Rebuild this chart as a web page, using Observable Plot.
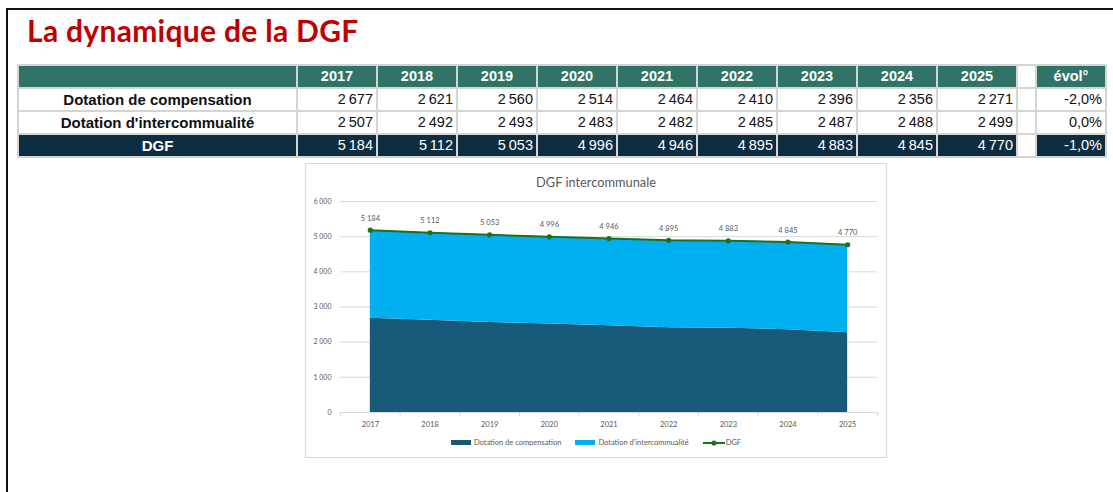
<!DOCTYPE html>
<html>
<head>
<meta charset="utf-8">
<script src="https://cdn.jsdelivr.net/npm/d3@7"></script>
<script src="https://cdn.jsdelivr.net/npm/@observablehq/plot@0.6"></script>
<style>
  html, body { margin: 0; padding: 0; background: #fff; }
  body { width: 1113px; height: 492px; position: relative; overflow: hidden; }
  #frame { position: absolute; left: 6px; top: 8px; width: 1200px; height: 600px;
           border-left: 2px solid #111; border-top: 2px solid #111; }
  #title { position: absolute; left: 27px; top: 12px; font-family: Lato, sans-serif; font-weight: 700;
           font-size: 30px; color: #c00000; white-space: nowrap; letter-spacing: 0.3px; }
  table { position: absolute; left: 17px; top: 64px; border-collapse: collapse; table-layout: fixed;
          font-family: "Liberation Sans", Arial, sans-serif; font-size: 14.5px; }
  tr { height: 23px; }
  td { border: 2px solid #d4d4d4; padding: 0 3px; white-space: nowrap; line-height: 19px; }
  tr.head td { background: #2f7466; color: #fff; font-weight: 700; text-align: center; }
  tr.row td { background: #fff; color: #111; text-align: right; }
  tr.row td.lab { text-align: center; font-weight: 700; font-size: 15px; }
  tr.tot td { background: #0d2e40; color: #fff; text-align: right; }
  tr.tot td.lab { text-align: center; font-weight: 700; font-size: 15px; }
  td.gap { background: #fff !important; }
  #chartbox { position: absolute; left: 305px; top: 163px; width: 580px; height: 293px;
              border: 1px solid #d9d9d9; background: #fff; }
  #ctitle { position: absolute; left: 0; width: 100%; top: 10px; text-align: center;
            font-family: Lato, sans-serif; font-size: 12.8px; color: #595959; }
  #plot { position: absolute; left: 0; top: 28px; }
  #legend { position: absolute; left: 0; width: 100%; top: 274px; display: flex; justify-content: center;
            align-items: center; font-family: Lato, sans-serif; font-size: 7.5px; color: #595959; }
  .li { display: flex; align-items: center; margin: 0 7px; }
  .sw { width: 20px; height: 5px; margin-right: 3px; }
</style>
</head>
<body>
<div id="frame"></div>
<div id="title">La dynamique de la DGF</div>
<table id="tbl"></table>
<div id="chartbox">
  <div id="ctitle">DGF intercommunale</div>
  <div id="plot"></div>
  <div id="legend"></div>
</div>
<script>
const years = [2017, 2018, 2019, 2020, 2021, 2022, 2023, 2024, 2025];
const compensation = [2677, 2621, 2560, 2514, 2464, 2410, 2396, 2356, 2271];
const intercommunalite = [2507, 2492, 2493, 2483, 2482, 2485, 2487, 2488, 2499];
const dgf = [5184, 5112, 5053, 4996, 4946, 4895, 4883, 4845, 4770];
const evol = [-2.0, 0.0, -1.0];
const rowLabels = ["Dotation de compensation", "Dotation d'intercommualité", "DGF"];
const seriesNames = ["Dotation de compensation", "Dotation d'intercommualité", "DGF"];
const yTicks = [0, 1000, 2000, 3000, 4000, 5000, 6000];
const colors = ["#175a7a", "#00b0f0", "#1f6f22"];

const fr = d3.formatLocale({decimal: ",", thousands: "\u00a0", grouping: [3], currency: ["", "€"], minus: "-"});
const frT = d3.formatLocale({decimal: ",", thousands: "\u2009", grouping: [3], currency: ["", "€"], minus: "-"});
const fmt = fr.format(",d");
const fmtT = frT.format(",d");
const fmtPct = v => fr.format(".1f")(v) + "%";

// Table
const tbl = document.getElementById("tbl");
const colW = [279].concat(years.map(() => 80)).concat([19, 70]);
const cg = document.createElement("colgroup");
colW.forEach(w => { const c = document.createElement("col"); c.style.width = w + "px"; cg.appendChild(c); });
tbl.appendChild(cg);
function addRow(cls, label, vals, ev) {
  const tr = document.createElement("tr"); tr.className = cls;
  const l = document.createElement("td"); l.className = "lab"; l.textContent = label; tr.appendChild(l);
  vals.forEach(v => { const td = document.createElement("td"); td.textContent = v; tr.appendChild(td); });
  const g = document.createElement("td"); g.className = "gap"; tr.appendChild(g);
  const e = document.createElement("td"); e.textContent = ev; tr.appendChild(e);
  tbl.appendChild(tr);
}
addRow("head", "", years.map(String), "évol°");
addRow("row", rowLabels[0], compensation.map(fmtT), fmtPct(evol[0]));
addRow("row", rowLabels[1], intercommunalite.map(fmtT), fmtPct(evol[1]));
addRow("tot", rowLabels[2], dgf.map(fmtT), fmtPct(evol[2]));

// Chart data
const areaData = [];
years.forEach((y, i) => {
  areaData.push({year: y, series: seriesNames[0], value: compensation[i]});
  areaData.push({year: y, series: seriesNames[1], value: intercommunalite[i]});
});
const lineData = years.map((y, i) => ({year: y, value: dgf[i]}));
const bounds = years.map(y => y - 0.5).concat([years[years.length - 1] + 0.5]);

const chart = Plot.plot({
  width: 580,
  height: 240,
  marginLeft: 34,
  marginRight: 9,
  marginTop: 9,
  marginBottom: 20,
  style: {fontFamily: "Lato, sans-serif", fontSize: "7px", color: "#595959", background: "transparent"},
  x: {domain: [bounds[0], bounds[bounds.length - 1]], label: null},
  y: {domain: [0, 6000], label: null},
  color: {domain: seriesNames.slice(0, 2), range: colors.slice(0, 2)},
  marks: [
    Plot.gridY(yTicks, {stroke: "#d9d9d9", strokeOpacity: 1, strokeWidth: 1}),
    Plot.axisY(yTicks, {tickSize: 0, tickPadding: 9, tickFormat: fmt, fill: "#595959", fontSize: 7, label: null}),
    Plot.areaY(areaData, Plot.stackY({x: "year", y: "value", fill: "series", order: seriesNames.slice(0, 2)})),
    Plot.axisX(bounds, {tickSize: 4, text: null, stroke: "#d9d9d9", label: null}),
    Plot.axisX(years, {tickSize: 0, tickPadding: 9, tickFormat: d => String(d), fill: "#595959", fontSize: 7.5, label: null}),
    Plot.line(lineData, {x: "year", y: "value", stroke: colors[2], strokeWidth: 2}),
    Plot.dot(lineData, {x: "year", y: "value", fill: colors[2], r: 2.6}),
    Plot.text(lineData, {x: "year", y: "value", text: d => fmt(d.value), dy: -12, fill: "#595959", fontSize: 7.5})
  ]
});
document.getElementById("plot").appendChild(chart);

// Legend
const lg = document.getElementById("legend");
seriesNames.forEach((s, i) => {
  const it = document.createElement("div"); it.className = "li";
  if (i < 2) {
    const sw = document.createElement("div"); sw.className = "sw"; sw.style.background = colors[i]; it.appendChild(sw);
  } else {
    const svg = d3.create("svg").attr("width", 22).attr("height", 8).style("margin-right", "1px");
    svg.append("line").attr("x1", 0).attr("x2", 22).attr("y1", 4).attr("y2", 4).attr("stroke", colors[2]).attr("stroke-width", 2);
    svg.append("circle").attr("cx", 11).attr("cy", 4).attr("r", 2.6).attr("fill", colors[2]);
    it.appendChild(svg.node());
  }
  const t = document.createElement("span"); t.textContent = s; it.appendChild(t);
  lg.appendChild(it);
});
</script>
</body>
</html>
